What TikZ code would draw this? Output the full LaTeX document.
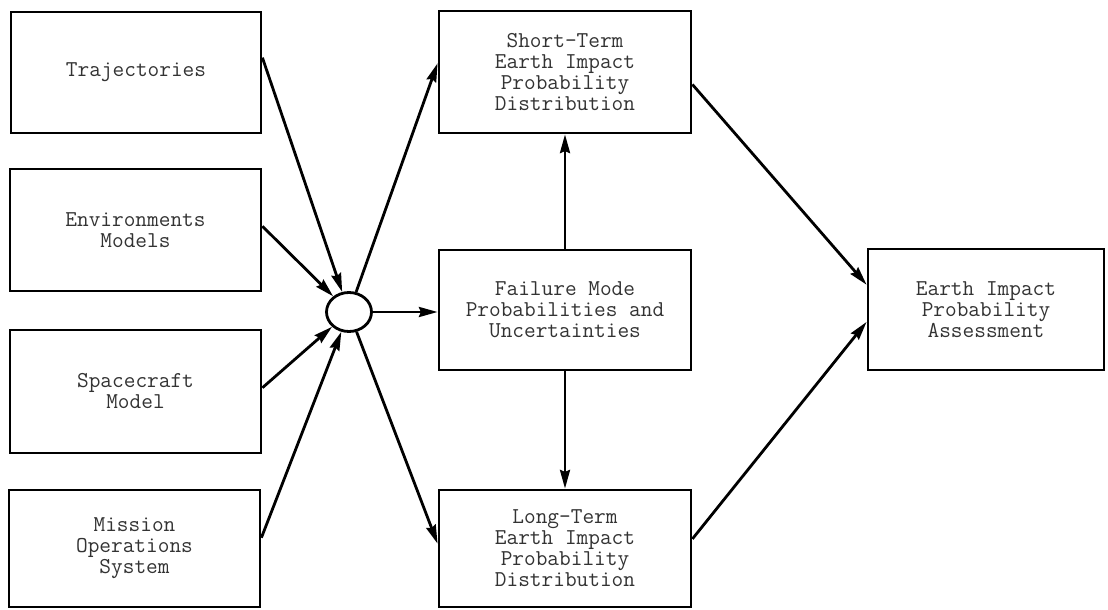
\documentclass[tikz,border=0pt]{standalone}
\usepackage{fontspec}
\usetikzlibrary{arrows.meta,calc,shapes.geometric}
\begin{document}
\begin{tikzpicture}[x=0.75pt,y=-0.75pt,
  box/.style={draw, line width=2.1pt, align=center, inner sep=0pt,
    font=\ttfamily\fontsize{17}{15.75}\selectfont, text=black!80},
  hubnode/.style={draw, ellipse, line width=2.1pt, inner sep=0pt,
    minimum width=33.75pt, minimum height=29.25pt},
  flow/.style={line width=2.1pt, -{Stealth[length=14pt,width=7.5pt,inset=1.5pt]}}]
% page frame
\useasboundingbox (0,0) rectangle (1108,610);
% box from its corners: name, x1, y1, x2, y2, text
\newcommand\cornerbox[6]{%
  \node[box, minimum width={(#4-#2)*0.75pt}, minimum height={(#5-#3)*0.75pt}]
    (#1) at ({(#2+#4)/2},{(#3+#5)/2}) {#6};}
% inputs
\cornerbox{traj}{11}{12}{261}{133}{Trajectories}
\cornerbox{env}{10}{169}{261}{291}{Environments\\Models}
\cornerbox{craft}{10}{330}{261}{453}{Spacecraft\\Model}
\cornerbox{ops}{9}{490}{260}{607}{Mission\\Operations\\System}
% junction
\node[hubnode] (hub) at (349,312) {};
% middle column
\cornerbox{short}{439}{11}{691}{133}{Short-Term\\Earth Impact\\Probability\\Distribution}
\cornerbox{fail}{439}{250}{691}{370}{Failure Mode\\Probabilities and\\Uncertainties}
\cornerbox{long}{439}{490}{691}{607}{Long-Term\\Earth Impact\\Probability\\Distribution}
% result
\cornerbox{assess}{868}{249}{1104}{370}{Earth Impact\\Probability\\Assessment}
% inputs into the junction
\draw[flow] ($(traj.north east)!0.38!(traj.south east)$) -- (hub);
\draw[flow] ($(env.north east)!0.47!(env.south east)$) -- (hub);
\draw[flow] ($(craft.north east)!0.47!(craft.south east)$) -- (hub);
\draw[flow] ($(ops.north east)!0.41!(ops.south east)$) -- (hub);
% junction to the middle column
\draw[flow] (hub) -- ($(short.north west)!0.43!(short.south west)$);
\draw[flow] (hub.east) -- (hub.east -| fail.west);
\draw[flow] (hub) -- ($(long.north west)!0.46!(long.south west)$);
\draw[flow] (fail.north) -- (short.south);
\draw[flow] (fail.south) -- (long.north);
% distributions into the assessment
\draw[flow] ($(short.north east)!0.6!(short.south east)$) -- ($(assess.north west)!0.3!(assess.south west)$);
\draw[flow] ($(long.north east)!0.42!(long.south east)$) -- ($(assess.north west)!0.6!(assess.south west)$);
\end{tikzpicture}
\end{document}
